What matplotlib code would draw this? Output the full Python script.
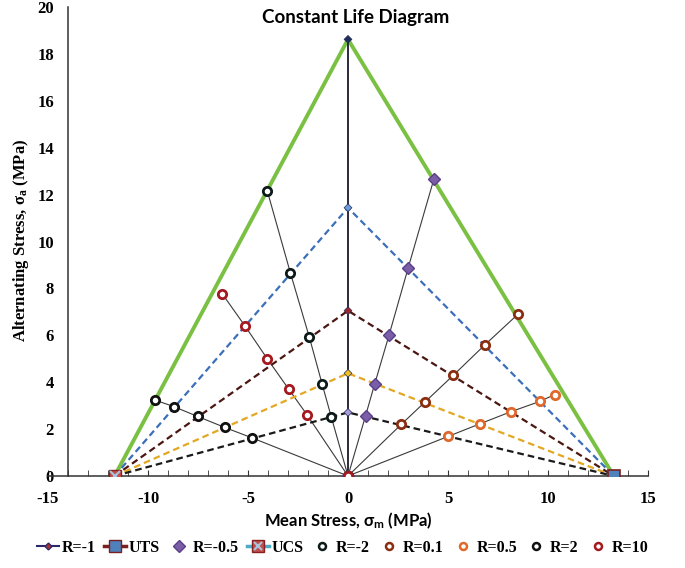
import matplotlib
matplotlib.use("Agg")
import matplotlib.pyplot as plt
from matplotlib.lines import Line2D
from matplotlib.legend_handler import HandlerTuple
from matplotlib.ticker import MultipleLocator

plt.rcParams['mathtext.default'] = 'regular'
plt.rcParams['axes.unicode_minus'] = False

# ultimate strengths (x position on the mean stress axis)
ucs = -11.67
uts = 13.29

# constant life lines: apex on the sigma_m = 0 axis
apex_y = [18.62, 11.44, 7.05, 4.38, 2.71]
apex_colors = ['#7ac143', '#3b6fba', '#4a1712', '#e3a823', '#1a1a1a']
apex_marker_colors = ['#1f2d5a', '#6f9bd8', '#a0262a', '#f0c020', '#a99ad8']

# R-ratio lines (mean stress, alternating stress)
r_m1_x = [0, 0, 0, 0, 0, 0]
r_m1_y = [0, 2.71, 4.38, 7.05, 11.44, 18.62]
r_m05_x = [0, 0.875, 1.33, 2.06, 3.01, 4.29]
r_m05_y = [0, 2.56, 3.91, 6.03, 8.88, 12.65]
r_m2_x = [0, -0.84, -1.29, -1.93, -2.88, -4.04]
r_m2_y = [0, 2.53, 3.91, 5.91, 8.66, 12.17]
r_01_x = [0, 2.66, 3.83, 5.26, 6.84, 8.51]
r_01_y = [0, 2.20, 3.14, 4.29, 5.59, 6.91]
r_05_x = [0, 5.01, 6.61, 8.14, 9.59, 10.33]
r_05_y = [0, 1.69, 2.23, 2.74, 3.18, 3.47]
r_2_x = [0, -4.78, -6.16, -7.52, -8.71, -9.66]
r_2_y = [0, 1.62, 2.07, 2.54, 2.96, 3.24]
r_10_x = [0, -2.04, -2.96, -4.03, -5.16, -6.28]
r_10_y = [0, 2.60, 3.70, 4.99, 6.41, 7.76]

serif_b = dict(family='Liberation Serif', weight='bold')

fig = plt.figure(figsize=(6.85, 5.68), dpi=100)
ax = fig.add_axes([48 / 685, 1 - 476 / 568, 600 / 685, 469 / 568])

# thin radial lines
for xs, ys in [(r_m05_x, r_m05_y), (r_m2_x, r_m2_y), (r_01_x, r_01_y),
               (r_05_x, r_05_y), (r_2_x, r_2_y), (r_10_x, r_10_y)]:
    ax.plot(xs, ys, color='#3a3a3a', lw=0.8, zorder=2)

# constant life lines
for i, (a, c) in enumerate(zip(apex_y, apex_colors)):
    if i == 0:
        ax.plot([ucs, 0, uts], [0, a, 0], color=c, lw=2.8, zorder=3)
    else:
        ax.plot([ucs, 0, uts], [0, a, 0], color=c, lw=1.6,
                dashes=(3, 1.8), zorder=3)

# R=-1 vertical line
ax.plot(r_m1_x, r_m1_y, color='#1a1a2e', lw=1.3, zorder=4)
ax.scatter([0] * len(apex_y), apex_y, marker='D', s=16,
           c=apex_marker_colors, edgecolors='#1f2d5a', linewidths=0.5, zorder=6)

# markers
ax.plot(r_m05_x, r_m05_y, ls='none', marker='D', ms=6.5, mfc='#7a5ea8',
        mec='#5a3f88', zorder=5)
circ = dict(ls='none', marker='o', ms=6, mfc='white', mew=2.0, zorder=7)
ax.plot(r_m2_x, r_m2_y, mec='#0d1a1a', **circ)
ax.plot(r_01_x, r_01_y, mec='#8a2e12', **circ)
ax.plot(r_05_x, r_05_y, mec='#e0682a', **circ)
ax.plot(r_2_x, r_2_y, mec='#111111', **circ)
ax.plot(r_10_x, r_10_y, mec='#a3191f', **circ)

ax.plot([uts], [0], ls='none', marker='s', ms=9, mfc='#4f81bd',
        mec='#7b1f1f', mew=1.2, zorder=8)
ax.plot([ucs], [0], ls='none', marker='s', ms=9, mfc='#c0504d',
        mec='#8b2020', mew=1.0, zorder=8)
ax.plot([ucs], [0], ls='none', marker='x', ms=7, mec='#a9c4e0', mew=1.5,
        zorder=9)

ax.set_xlim(-15, 15)
ax.set_ylim(0, 20)
ax.spines['top'].set_visible(False)
ax.spines['right'].set_visible(False)
ax.spines['left'].set_position(('data', -14))
ax.spines['left'].set_color('#333333')
ax.spines['bottom'].set_color('#333333')
ax.spines['left'].set_linewidth(1.1)
ax.spines['bottom'].set_linewidth(1.1)
ax.xaxis.set_major_locator(MultipleLocator(5))
ax.xaxis.set_minor_locator(MultipleLocator(1))
ax.yaxis.set_major_locator(MultipleLocator(2))
ax.tick_params(axis='x', which='both', direction='in', length=4,
               color='#333333', pad=11)
ax.tick_params(axis='y', length=0, pad=10)
for lab in ax.get_xticklabels() + ax.get_yticklabels():
    lab.set_fontproperties(serif_b)
    lab.set_fontsize(12)

fig.text(356 / 685, 1 - 18 / 568, 'Constant Life Diagram', ha='center',
         va='center', family='Lato', weight='bold', fontsize=13.5)
fig.text(348 / 685, 1 - 521 / 568, r'Mean Stress, σ$_m$ (MPa)', ha='center',
         va='center', family='Lato', weight='bold', fontsize=12)
fig.text(21 / 685, 1 - 240 / 568, r'Alternating Stress, σ$_a$ (MPa)',
         ha='center', va='center', rotation=90, fontsize=12, **serif_b)

handles = [
    Line2D([], [], color='#2a2a6a', lw=1.5, marker='D', ms=3.5, mfc='#b03030',
           mec='#2a2a6a'),
    Line2D([], [], color='#7b1f1f', lw=2.5, marker='s', ms=8, mfc='#4f81bd',
           mec='#7b1f1f'),
    Line2D([], [], ls='none', marker='D', ms=6.5, mfc='#7a5ea8', mec='#5a3f88'),
    (Line2D([], [], color='#4bacc6', lw=2.5, marker='s', ms=8, mfc='#c0504d',
            mec='#8b2020'),
     Line2D([], [], ls='none', marker='x', ms=6, mec='#a9c4e0', mew=1.5)),
    Line2D([], [], ls='none', marker='o', ms=5, mfc='white', mew=1.8, mec='#0d1a1a'),
    Line2D([], [], ls='none', marker='o', ms=5, mfc='white', mew=1.8, mec='#8a2e12'),
    Line2D([], [], ls='none', marker='o', ms=5, mfc='white', mew=1.8, mec='#e0682a'),
    Line2D([], [], ls='none', marker='o', ms=5, mfc='white', mew=1.8, mec='#111111'),
    Line2D([], [], ls='none', marker='o', ms=5, mfc='white', mew=1.8, mec='#a3191f'),
]
labels = ['R=-1', 'UTS', 'R=-0.5', 'UCS', 'R=-2', 'R=0.1', 'R=0.5', 'R=2', 'R=10']
fig.legend(handles, labels, loc='center', bbox_to_anchor=(0.5, 1 - 548 / 568),
           ncol=9, frameon=False, prop=dict(family='Liberation Serif',
                                            weight='bold', size=11.5),
           handlelength=1.4, handletextpad=0.15, columnspacing=0.5,
           borderaxespad=0, borderpad=0,
           handler_map={tuple: HandlerTuple(ndivide=1, pad=0)})

fig.savefig('out.png', dpi=100)
